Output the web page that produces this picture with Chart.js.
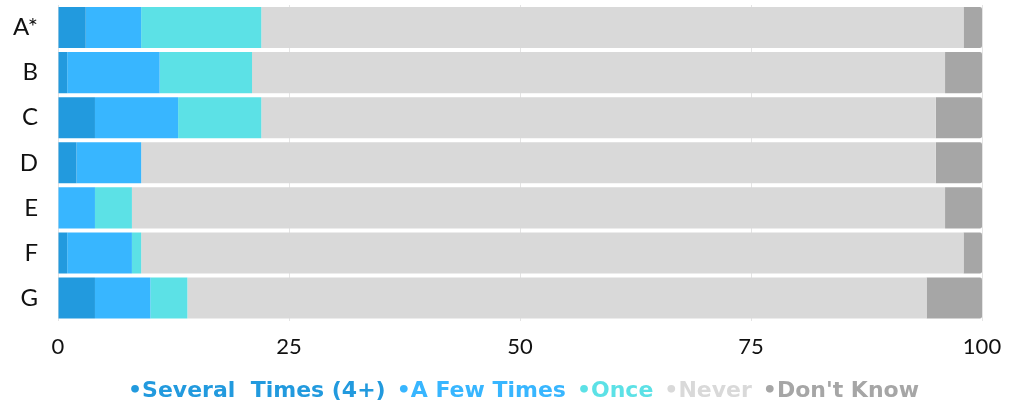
<!DOCTYPE html>
<html>
<head>
<meta charset="utf-8">
<script src="https://cdn.jsdelivr.net/npm/chart.js@4"></script>
<style>
  html, body { margin: 0; padding: 0; background: #fff; }
  #wrap { width: 1020px; height: 405px; }
</style>
</head>
<body>
<div id="wrap"><canvas id="myChart" width="1020" height="405"></canvas></div>
<script>
const categories = ['A*', 'B', 'C', 'D', 'E', 'F', 'G'];
const seriesNames = ['Several  Times (4+)', 'A Few Times', 'Once', 'Never', "Don't Know"];
const several = [3, 1, 4, 2, 0, 1, 4];
const fewTimes = [6, 10, 9, 7, 4, 7, 6];
const once = [13, 10, 9, 0, 4, 1, 4];
const never = [76, 75, 73, 86, 88, 89, 80];
const dontKnow = [2, 4, 5, 5, 4, 2, 6];
const xTicks = [0, 25, 50, 75, 100];

const colors = ['#229ade', '#38b6ff', '#5ce1e6', '#d9d9d9', '#a6a6a6'];
const allData = [several, fewTimes, once, never, dontKnow];

const datasets = seriesNames.map((name, i) => ({
  label: name,
  data: allData[i],
  backgroundColor: colors[i],
  borderWidth: 0,
  borderRadius: 2,
  barPercentage: 0.91,
  categoryPercentage: 1
}));

// nudge the legend to where it sits in the original
const legendShift = {
  id: 'legendShift',
  afterLayout(chart) {
    const lg = chart.legend;
    lg.left += 27; lg.right += 27;
    lg.top += 7; lg.bottom += 7;
  }
};

const ctx = document.getElementById('myChart').getContext('2d');
const myChart = new Chart(ctx, {
  type: 'bar',
  data: { labels: categories, datasets: datasets },
  plugins: [legendShift],
  options: {
    indexAxis: 'y',
    responsive: false,
    animation: false,
    layout: { padding: { top: 5, right: 38, left: 0, bottom: 0 } },
    scales: {
      x: {
        stacked: true,
        min: 0,
        max: 100,
        afterBuildTicks: (axis) => { axis.ticks = xTicks.map(v => ({ value: v })); },
        grid: { color: '#e4e4e4', drawTicks: false },
        border: { display: false },
        ticks: {
          color: '#111',
          padding: 13,
          font: { family: 'Lato', size: 22, weight: '400' }
        }
      },
      y: {
        stacked: true,
        grid: { display: false },
        border: { display: false },
        afterFit: (axis) => {
          axis.width = 58;
          axis.paddingTop = 0;
          axis.paddingBottom = 0;
        },
        ticks: {
          color: '#111',
          padding: 12,
          font: { family: 'Lato', size: 24, weight: '400' }
        }
      }
    },
    plugins: {
      tooltip: { enabled: false },
      legend: {
        position: 'bottom',
        labels: {
          boxWidth: 0,
          boxHeight: 0,
          padding: 0,
          font: { family: 'DejaVu Sans', size: 22, weight: 'bold' },
          generateLabels: (chart) => chart.data.datasets.map((ds, i) => ({
            text: '\u2022' + ds.label,
            fillStyle: 'rgba(0,0,0,0)',
            strokeStyle: 'rgba(0,0,0,0)',
            lineWidth: 0,
            fontColor: colors[i],
            hidden: false,
            datasetIndex: i
          }))
        }
      }
    }
  }
});
</script>
</body>
</html>
